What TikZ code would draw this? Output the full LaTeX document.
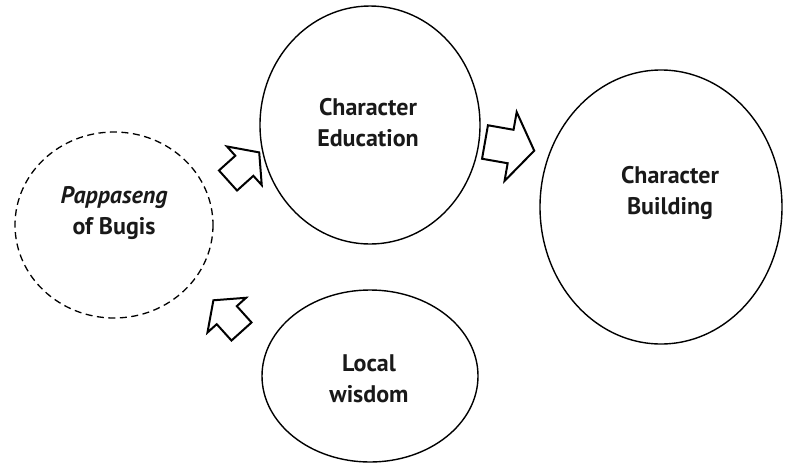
\documentclass[tikz,border=0pt]{standalone}
\usepackage{fontspec}
\setmainfont{PT Sans}
\begin{document}
\begin{tikzpicture}[x=1pt,y=-1pt,
  lbl/.style={font=\bfseries\fontsize{24}{31}\selectfont,align=center,text=black!90},
  barrow/.style={draw=black,line width=2pt,line join=miter,fill=white}]
\useasboundingbox (0,0) rectangle (792,464);
% circles
\draw[line width=1.3pt,dash pattern=on 7pt off 4.5pt] (114,225) ellipse [x radius=99,y radius=93];
\draw[line width=1.4pt] (370,125) ellipse [x radius=110,y radius=119];
\draw[line width=1.4pt] (661,207) ellipse [x radius=121,y radius=137];
\draw[line width=1.4pt] (370,376) ellipse [x radius=108,y radius=86];
% labels
\node[lbl] (pap) at (114,213) {\textit{Pappaseng}\\of Bugis};
\node[lbl] (edu) at (368,123) {Character\\Education};
\node[lbl] (bld) at (670,193) {Character\\Building};
\node[lbl] (loc) at (369,379) {Local\\wisdom};
% block arrows
\begin{scope}[shift={(228,180.5)},rotate=42]
  \draw[barrow] (0,-13.5) -- (22,-13.5) -- (22,-26) -- (42,0) -- (22,26) -- (22,13.5) -- (0,13.5) -- cycle;
\end{scope}
\begin{scope}[shift={(485,142)},rotate=-10]
  \draw[barrow] (0,-17) -- (26,-17) -- (26,-35) -- (50,0) -- (26,35) -- (26,17) -- (0,17) -- cycle;
\end{scope}
\begin{scope}[shift={(241.5,331.5)},rotate=132]
  \draw[barrow] (0,-13.5) -- (22,-13.5) -- (22,-26) -- (42,0) -- (22,26) -- (22,13.5) -- (0,13.5) -- cycle;
\end{scope}
\end{tikzpicture}
\end{document}
